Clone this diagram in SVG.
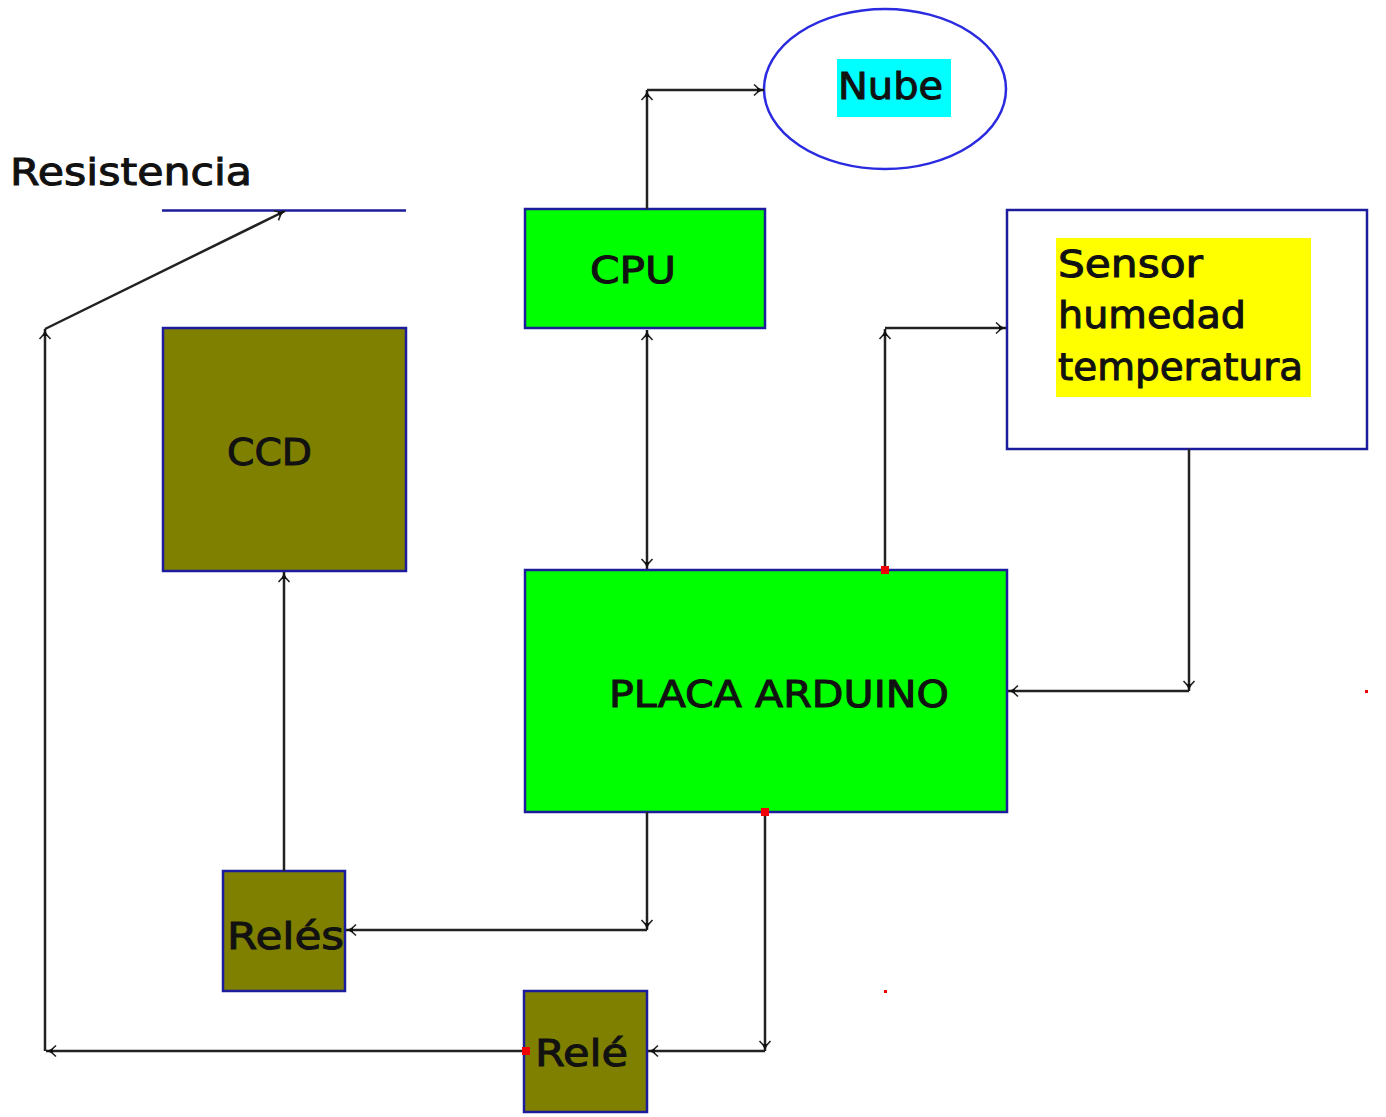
<svg xmlns="http://www.w3.org/2000/svg" width="1386" height="1117" viewBox="0 0 1386 1117">
<style>
text{font-family:"DejaVu Sans","Liberation Sans",sans-serif;font-size:38px;fill:#111;stroke:#111;stroke-width:1}
.n{stroke:#1c1c9c;stroke-width:2.5}
.g{fill:#00ff00}.o{fill:#808000}
.c{fill:none;stroke:#222;stroke-width:2.5;marker-end:url(#a)}
.l{fill:none;stroke:#222;stroke-width:2.5}
</style>
<defs><marker id="a" markerWidth="16" markerHeight="16" refX="12" refY="7" orient="auto" markerUnits="userSpaceOnUse"><path d="M2 1.5L8 7L2 12.5" fill="none" stroke="#222" stroke-width="1.6"/><path d="M5 4.5L12 7L5 9.500Z" fill="#111"/></marker>
<marker id="s" markerWidth="16" markerHeight="16" refX="12" refY="7" orient="auto-start-reverse" markerUnits="userSpaceOnUse"><path d="M2 1.5L8 7L2 12.5" fill="none" stroke="#222" stroke-width="1.6"/><path d="M5 4.5L12 7L5 9.500Z" fill="#111"/></marker></defs>
<rect width="1386" height="1117" fill="#fff"/>
<g id="nube"><ellipse cx="885" cy="89" rx="121" ry="80" fill="#fff" stroke="#2a2ae0" stroke-width="2.5"/><rect x="837" y="59" width="114" height="58" fill="#00ffff"/><text x="838" y="99" textLength="105" lengthAdjust="spacingAndGlyphs">Nube</text></g>
<g id="resistencia"><text x="10" y="185" textLength="242" lengthAdjust="spacingAndGlyphs">Resistencia</text><line class="n" x1="162" y1="210.500" x2="406" y2="210.500"/></g>
<g id="cpu"><rect class="n g" x="525" y="209" width="240" height="119"/><text x="590" y="283" textLength="86" lengthAdjust="spacingAndGlyphs">CPU</text></g>
<g id="sensor"><rect class="n" x="1007" y="210" width="360" height="239" fill="#fff"/><rect x="1056" y="238" width="255" height="159" fill="#ffff00"/><text x="1058" y="277" textLength="145" lengthAdjust="spacingAndGlyphs">Sensor</text><text x="1058" y="328" textLength="188" lengthAdjust="spacingAndGlyphs">humedad</text><text x="1058" y="380" textLength="245" lengthAdjust="spacingAndGlyphs">temperatura</text></g>
<g id="ccd"><rect class="n o" x="163" y="328" width="243" height="243"/><text x="227" y="465" textLength="85" lengthAdjust="spacingAndGlyphs">CCD</text></g>
<g id="arduino"><rect class="n g" x="525" y="570" width="482" height="242"/><text x="609" y="707" textLength="340" lengthAdjust="spacingAndGlyphs">PLACA ARDUINO</text></g>
<g id="reles"><rect class="n o" x="223" y="871" width="122" height="120"/><text x="227" y="949" textLength="117" lengthAdjust="spacingAndGlyphs">Relés</text></g>
<g id="rele"><rect class="n o" x="524" y="991" width="123" height="121"/><text x="535" y="1066" textLength="93" lengthAdjust="spacingAndGlyphs">Relé</text></g>
<g id="connectors">
<path class="c" d="M647 209V90"/><path class="c" d="M647 90H764"/>
<path d="M647 330V569" class="l" marker-start="url(#s)" marker-end="url(#s)"/>
<path class="c" d="M885 570V329"/><path class="c" d="M885 328H1006"/>
<path class="c" d="M1189 449V691"/><path class="c" d="M1189 691H1008"/>
<path class="c" d="M284 871V572"/>
<path class="c" d="M647 812V930"/><path class="c" d="M647 930H346"/>
<path class="c" d="M765 812V1051"/><path class="c" d="M765 1051H648"/>
<path class="c" d="M524 1051H46"/><path class="c" d="M45 1051V329"/><path class="c" d="M45 329L285 211"/>
<g fill="#f00000"><rect x="881" y="566" width="8" height="8"/><rect x="761" y="808" width="8" height="8"/><rect x="522" y="1047" width="8" height="8"/><rect x="1365" y="690" width="3" height="3"/><rect x="884" y="990" width="3" height="3"/></g>
</g>
</svg>
